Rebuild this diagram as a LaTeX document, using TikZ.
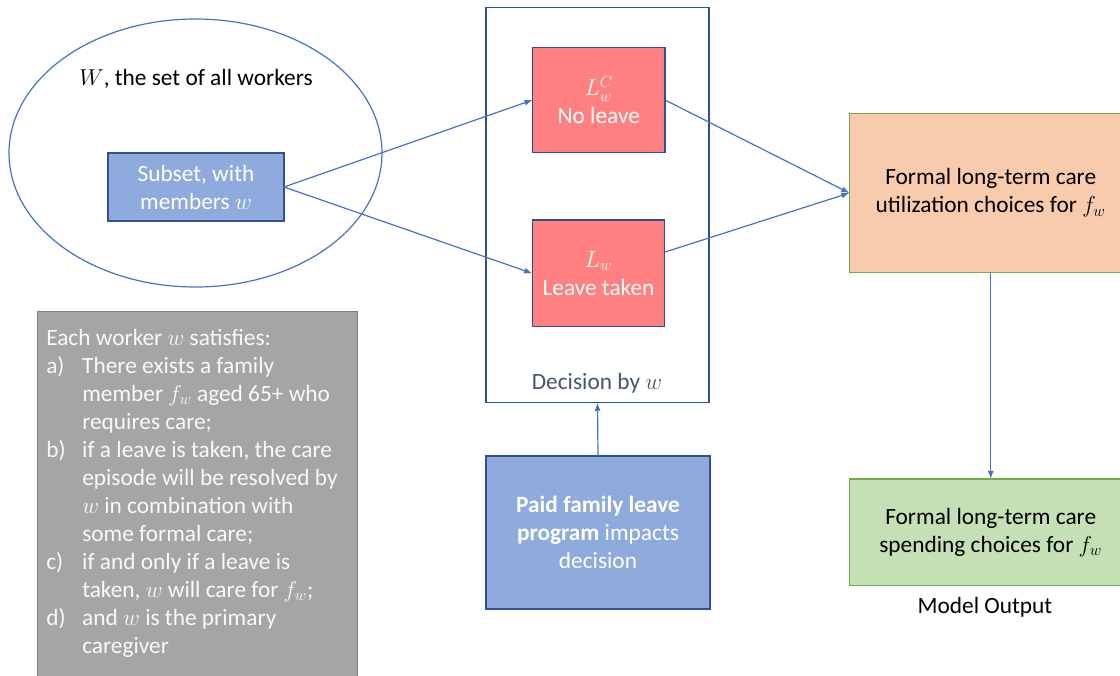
\documentclass[tikz,border=0pt]{standalone}
\usepackage{fontspec}
\setmainfont{Carlito}
\usetikzlibrary{arrows.meta,shapes.geometric}

\definecolor{linkblue}{RGB}{68,114,196}
\definecolor{darkblue}{RGB}{47,82,143}
\definecolor{boxblue}{RGB}{143,170,220}
\definecolor{boxred}{RGB}{255,128,128}
\definecolor{boxorange}{RGB}{248,203,173}
\definecolor{boxgreen}{RGB}{197,224,180}
\definecolor{edgegreen}{RGB}{112,173,71}
\definecolor{boxgray}{RGB}{165,165,165}
\definecolor{edgegray}{RGB}{127,127,127}
\definecolor{slate}{RGB}{68,84,106}

\tikzset{
  txt/.style={font=\fontsize{17.5}{21}\selectfont},
  box/.style={txt, draw, line width=1pt, inner sep=0pt, outer sep=0pt, align=center},
  link/.style={draw=linkblue, line width=0.9pt, -{Latex[length=6pt,width=4.5pt]}},
}

\begin{document}
\begin{tikzpicture}[x=0.75pt,y=0.75pt,yscale=-1,xscale=1]
\useasboundingbox (0,0) rectangle (1120,675);

% Ellipse: all workers
\node[ellipse, draw=linkblue, line width=0.9pt, minimum width=279.75pt, minimum height=201pt] (allw) at (195.5,153) {};
% Text Node
\node[txt] (wtitle) at (196,79) {$W$, the set of all workers};
% Subset box
\node[box, draw=darkblue, fill=boxblue, text=white, minimum width=132pt, minimum height=51pt] (sub) at (196,187) {Subset, with\\members $w$};

% Decision frame
\node[draw=darkblue, line width=1pt, inner sep=0pt, outer sep=0pt, minimum width=167.25pt, minimum height=296.6pt] (dec) at (597.5,205) {};
% Text Node
\node[txt, text=slate] (declabel) at (597,383) {Decision by $w$};
% No leave
\node[box, draw=darkblue, fill=boxred, text=white, minimum width=99.4pt, minimum height=79pt] (nolv) at (598.75,100) {$L_w^C$\\No leave};
% Leave taken
\node[box, draw=darkblue, fill=boxred, text=white, minimum width=99.4pt, minimum height=80pt] (ltaken) at (598.5,273.3) {$L_w$\\Leave taken};

% Program box
\node[box, draw=darkblue, fill=boxblue, text=white, minimum width=168pt, minimum height=114.75pt] (paid) at (598,532.5) {\textbf{Paid family leave}\\\textbf{program} impacts\\decision};

% Utilization box
\node[box, draw=edgegreen, fill=boxorange, minimum width=212pt, minimum height=119.5pt] (util) at (990.7,193) {Formal long-term care\\utilization choices for $f_w$};
% Spending box
\node[box, draw=edgegreen, fill=boxgreen, minimum width=212pt, minimum height=80pt] (spend) at (990.7,532.3) {Formal long-term care\\spending choices for $f_w$};
% Text Node
\node[txt] (outlabel) at (985,607) {Model Output};

% Conditions box
\node[draw=edgegray, fill=boxgray, line width=1pt, inner sep=0pt, minimum width=239.8pt, minimum height=291.75pt, anchor=north west] (cond) at (37,311) {};
\node[txt, text=white!95!gray, anchor=north west, align=left, inner sep=0pt] (condtext) at (46,329) {%
Each worker $w$ satisfies:\\
\makebox[27pt][l]{a)}There exists a family\\
\hspace*{27pt}member $f_w$ aged 65+ who\\
\hspace*{27pt}requires care;\\
\makebox[27pt][l]{b)}if a leave is taken, the care\\
\hspace*{27pt}episode will be resolved by\\
\hspace*{27pt}$w$ in combination with\\
\hspace*{27pt}some formal care;\\
\makebox[27pt][l]{c)}if and only if a leave is\\
\hspace*{27pt}taken, $w$ will care for $f_w$;\\
\makebox[27pt][l]{d)}and $w$ is the primary\\
\hspace*{27pt}caregiver};

% Connectors
\draw[link] (sub.east) -- (nolv.west);
\draw[link] (sub.east) -- (ltaken.west);
\draw[link] (nolv.east) -- (util.west);
\draw[link] (ltaken) -- (util.west);
\draw[link] (paid.north) -- (dec.south);
\draw[link] (util.south) -- (spend.north);

\end{tikzpicture}
\end{document}
